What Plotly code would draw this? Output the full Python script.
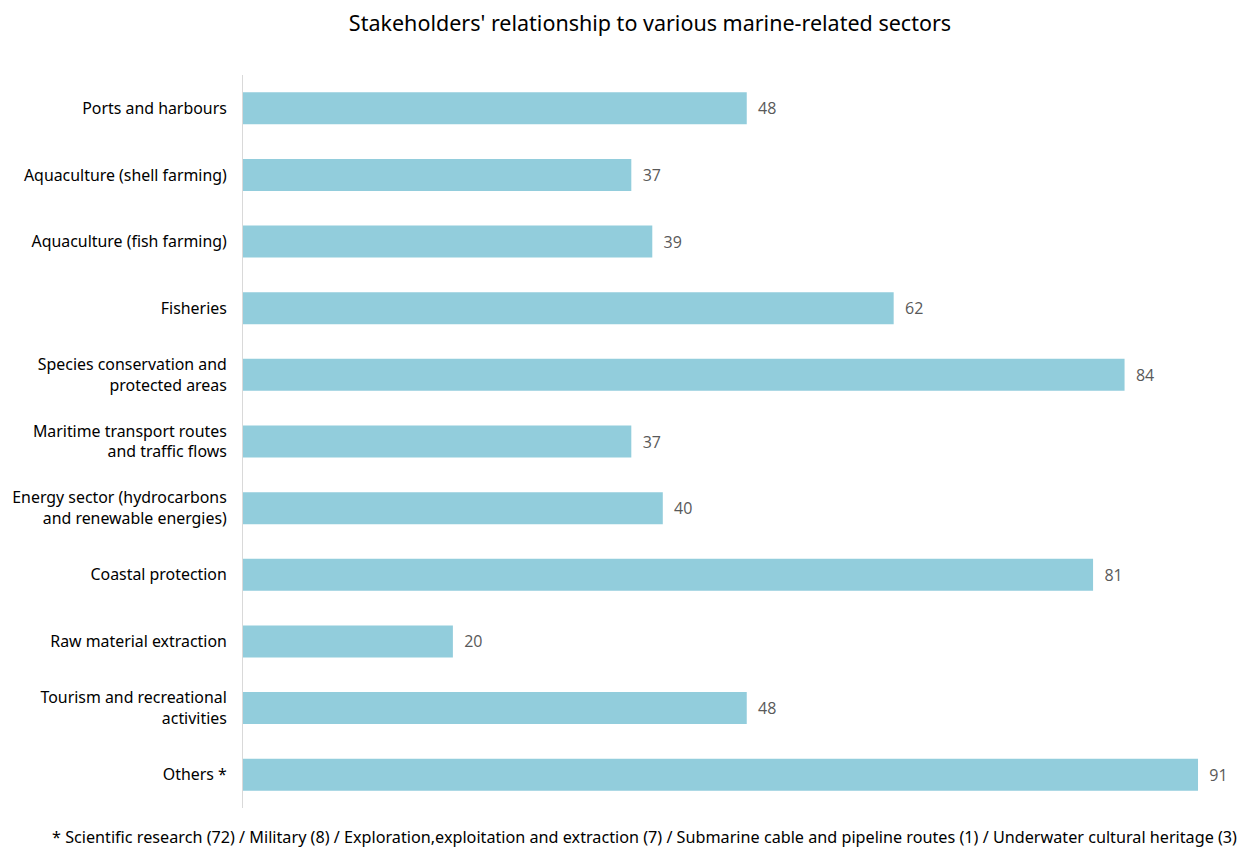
import plotly.graph_objects as go

sectors = [
    "Ports and harbours",
    "Aquaculture (shell farming)",
    "Aquaculture (fish farming)",
    "Fisheries",
    "Species conservation and<br>protected areas",
    "Maritime transport routes<br>and traffic flows",
    "Energy sector (hydrocarbons<br>and renewable energies)",
    "Coastal protection",
    "Raw material extraction",
    "Tourism and recreational<br>activities",
    "Others *",
]
counts = [48, 37, 39, 62, 84, 37, 40, 81, 20, 48, 91]

footnote = ("* Scientific research (72) / Military (8) / Exploration,exploitation and extraction (7) / "
            "Submarine cable and pipeline routes (1) / Underwater cultural heritage (3)")

fig = go.Figure(
    go.Bar(
        x=counts,
        y=sectors,
        orientation="h",
        marker=dict(color="#92CDDC", line=dict(width=0)),
        width=0.48,
        text=[f"  {v}" for v in counts],
        textposition="outside",
        textfont=dict(family="Open Sans, sans-serif", size=16, color="#595959"),
        cliponaxis=False,
        hoverinfo="x+y",
    )
)

fig.update_layout(
    width=1256,
    height=849,
    margin=dict(l=243, r=16, t=75, b=41),
    paper_bgcolor="white",
    plot_bgcolor="white",
    showlegend=False,
    title=dict(
        text="Stakeholders' relationship to various marine-related sectors",
        x=0.5175,
        xanchor="center",
        y=0.972,
        yanchor="middle",
        font=dict(family="Noto Sans, sans-serif", size=21.5, color="#000000"),
    ),
    xaxis=dict(
        range=[0, 95],
        showgrid=False,
        zeroline=False,
        showticklabels=False,
        showline=False,
        ticks="",
    ),
    yaxis=dict(
        autorange="reversed",
        showgrid=False,
        zeroline=False,
        showline=True,
        linecolor="#D9D9D9",
        linewidth=1,
        ticks="",
        ticklabelstandoff=12,
        tickfont=dict(family="Noto Sans, sans-serif", size=15.9, color="#000000"),
    ),
    annotations=[
        dict(
            text=footnote,
            xref="paper",
            yref="paper",
            x=-0.194,
            y=-0.039,
            xanchor="left",
            yanchor="middle",
            showarrow=False,
            font=dict(family="Noto Sans, sans-serif", size=16.2, color="#000000"),
        )
    ],
)

fig.write_html("out.html")
